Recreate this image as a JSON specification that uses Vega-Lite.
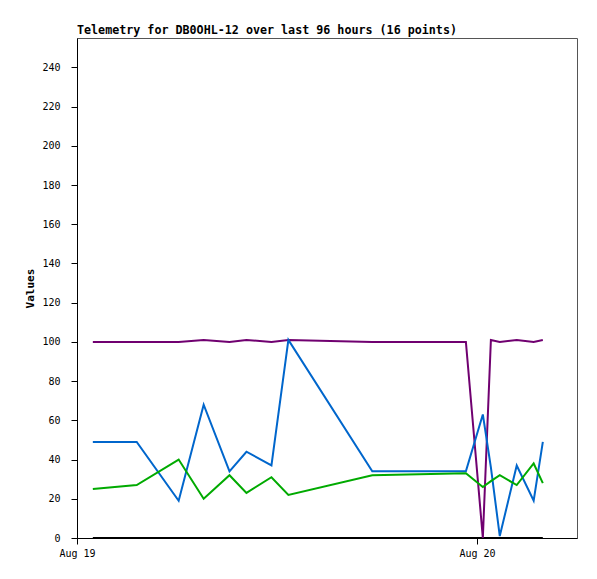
{
  "$schema": "https://vega.github.io/schema/vega-lite/v6.json",
  "width": 500,
  "height": 500,
  "autosize": "none",
  "padding": {"left": 77, "top": 38, "right": 20, "bottom": 41},
  "background": "white",
  "title": {
    "text": "Telemetry for DB0OHL-12 over last 96 hours (16 points)",
    "anchor": "start",
    "frame": "group",
    "font": "DejaVu Sans Mono",
    "fontSize": 11.7,
    "fontWeight": "bold",
    "color": "black",
    "baseline": "alphabetic",
    "offset": -8
  },
  "config": {
    "view": {"stroke": "#555555", "strokeWidth": 1},
    "axis": {
      "labelFont": "DejaVu Sans Mono",
      "labelFontSize": 10,
      "labelColor": "black",
      "titleFont": "DejaVu Sans Mono",
      "titleColor": "black",
      "domainColor": "black",
      "tickColor": "black",
      "grid": false
    }
  },
  "data": {
    "values": [
      {"t": "2024-08-19T00:57:00", "ch1": 0, "ch2": 100, "ch3": 49, "ch4": 25},
      {"t": "2024-08-19T03:35:00", "ch1": 0, "ch2": 100, "ch3": 49, "ch4": 27},
      {"t": "2024-08-19T06:06:00", "ch1": 0, "ch2": 100, "ch3": 19, "ch4": 40},
      {"t": "2024-08-19T07:36:00", "ch1": 0, "ch2": 101, "ch3": 68, "ch4": 20},
      {"t": "2024-08-19T09:09:00", "ch1": 0, "ch2": 100, "ch3": 34, "ch4": 32},
      {"t": "2024-08-19T10:10:00", "ch1": 0, "ch2": 101, "ch3": 44, "ch4": 23},
      {"t": "2024-08-19T11:40:00", "ch1": 0, "ch2": 100, "ch3": 37, "ch4": 31},
      {"t": "2024-08-19T12:41:00", "ch1": 0, "ch2": 101, "ch3": 101, "ch4": 22},
      {"t": "2024-08-19T17:43:00", "ch1": 0, "ch2": 100, "ch3": 34, "ch4": 32},
      {"t": "2024-08-19T23:20:00", "ch1": 0, "ch2": 100, "ch3": 34, "ch4": 33},
      {"t": "2024-08-20T00:21:00", "ch1": 0, "ch2": 0, "ch3": 63, "ch4": 26},
      {"t": "2024-08-20T00:50:00", "ch1": 0, "ch2": 101, "ch3": 36, "ch4": 29},
      {"t": "2024-08-20T01:22:00", "ch1": 0, "ch2": 100, "ch3": 1, "ch4": 32},
      {"t": "2024-08-20T02:23:00", "ch1": 0, "ch2": 101, "ch3": 37, "ch4": 27},
      {"t": "2024-08-20T03:24:00", "ch1": 0, "ch2": 100, "ch3": 19, "ch4": 38},
      {"t": "2024-08-20T03:57:00", "ch1": 0, "ch2": 101, "ch3": 49, "ch4": 28}
    ]
  },
  "transform": [
    {"fold": ["ch1", "ch2", "ch3", "ch4"], "as": ["channel", "value"]}
  ],
  "mark": {"type": "line", "strokeWidth": 2, "interpolate": "linear"},
  "encoding": {
    "x": {
      "field": "t",
      "type": "temporal",
      "scale": {
        "domain": [
          {"year": 2024, "month": 8, "date": 19, "hours": 0},
          {"year": 2024, "month": 8, "date": 20, "hours": 6}
        ]
      },
      "axis": {
        "title": null,
        "values": [
          {"year": 2024, "month": 8, "date": 19},
          {"year": 2024, "month": 8, "date": 20}
        ],
        "format": "%b %d",
        "tickSize": 6,
        "labelPadding": 4,
        "labelFlush": false,
        "labelOverlap": false
      }
    },
    "y": {
      "field": "value",
      "type": "quantitative",
      "scale": {"domain": [0, 255], "nice": false, "zero": true},
      "axis": {
        "title": "Values",
        "titleFontSize": 11,
        "titleFontWeight": "bold",
        "titlePadding": 6,
        "values": [0, 20, 40, 60, 80, 100, 120, 140, 160, 180, 200, 220, 240],
        "tickSize": 6,
        "labelPadding": 11
      }
    },
    "color": {
      "field": "channel",
      "type": "nominal",
      "scale": {
        "domain": ["ch1", "ch2", "ch3", "ch4"],
        "range": ["#000000", "#700070", "#0066cc", "#00aa00"]
      },
      "legend": null
    },
    "order": {"field": "t", "type": "temporal"}
  }
}
